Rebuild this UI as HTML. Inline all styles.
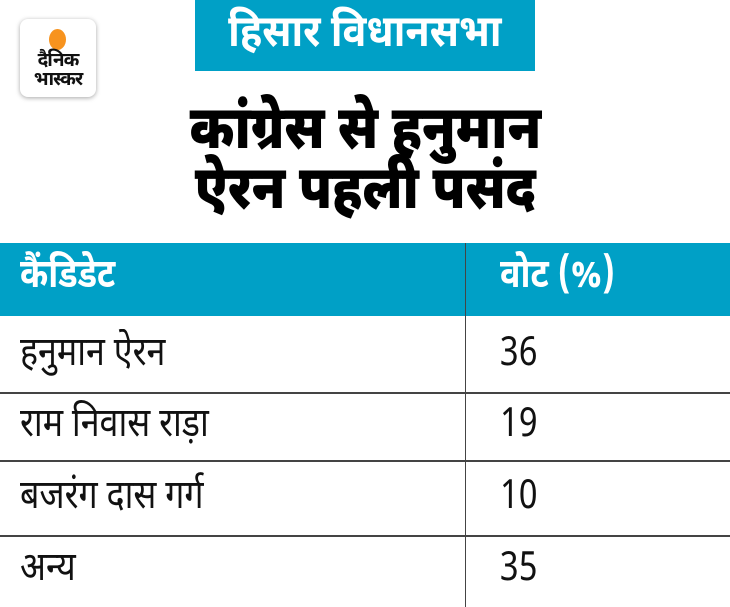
<!DOCTYPE html>
<html><head><meta charset="utf-8"><style>
body{margin:0;width:730px;height:607px;background:#fff;position:relative;overflow:hidden;font-family:"Noto Sans Devanagari","Lohit Devanagari","Liberation Sans",sans-serif;}
.a{position:absolute}
.s{display:inline-block;transform-origin:left center;white-space:nowrap}
.logo{left:20px;top:19px;width:76px;height:78px;border-radius:8px;background:#fff;box-shadow:0 1px 5px rgba(0,0,0,.35);text-align:center}
.dot{position:absolute;left:29px;top:10px;width:17px;height:21px;border-radius:50%;background:#f7931e}
.lt{position:absolute;left:0;width:76px;font-weight:bold;font-size:19px;line-height:19px;color:#111;letter-spacing:-1px}
.tb{left:195px;top:0;width:340px;height:71px;background:#00a0c6;color:#fff;font-size:44px;font-weight:bold;text-align:center;line-height:71px}
.h{left:0;width:730px;text-align:center;font-size:60px;font-weight:900;color:#000;line-height:60px}
.hdr{left:0;top:243px;width:730px;height:73px;background:#00a0c6}
.c{font-size:40px;line-height:40px;color:#111}
.c .s{transform:scaleX(.85)}
.line{left:0;width:730px;height:2px;background:#444}
</style></head><body>
<div class="a logo"><div class="dot"></div><div class="lt" style="top:33px">दैनिक</div><div class="lt" style="top:52px">भास्कर</div></div>
<div class="a tb"><span class="s" style="transform:scaleX(.9);transform-origin:center">हिसार विधानसभा</span></div>
<div class="a h" style="top:104px"><span class="s" style="transform:scaleX(.86);transform-origin:center">कांग्रेस से हनुमान</span></div>
<div class="a h" style="top:164px"><span class="s" style="transform:scaleX(.86);transform-origin:center">ऐरन पहली पसंद</span></div>
<div class="a hdr"></div>
<div class="a" style="left:465px;top:243px;width:1px;height:364px;background:#444"></div>
<div class="a c" style="left:20px;top:258px;color:#fff;font-weight:bold"><span class="s">कैंडिडेट</span></div>
<div class="a c" style="left:500px;top:258px;color:#fff;font-weight:bold"><span class="s">वोट (%)</span></div>
<div class="a c" style="left:20px;top:336px"><span class="s">हनुमान ऐरन</span></div><div class="a c" style="left:500px;top:336px"><span class="s">36</span></div>
<div class="a line" style="top:392px"></div>
<div class="a c" style="left:20px;top:407px"><span class="s">राम निवास राड़ा</span></div><div class="a c" style="left:500px;top:407px"><span class="s">19</span></div>
<div class="a line" style="top:460px"></div>
<div class="a c" style="left:20px;top:479px"><span class="s">बजरंग दास गर्ग</span></div><div class="a c" style="left:500px;top:479px"><span class="s">10</span></div>
<div class="a line" style="top:535px"></div>
<div class="a c" style="left:20px;top:551px"><span class="s">अन्य</span></div><div class="a c" style="left:500px;top:551px"><span class="s">35</span></div>
</body></html>
